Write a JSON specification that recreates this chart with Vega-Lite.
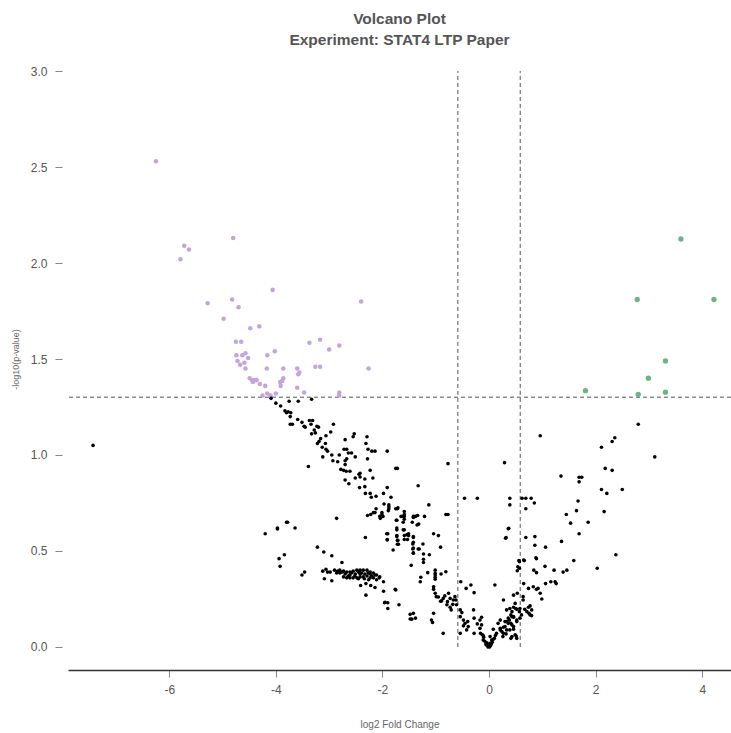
{
"$schema": "https://vega.github.io/schema/vega-lite/v6.json",
"width": 663, "height": 622,
"autosize": {"type": "none"},
"padding": {"left": 68, "top": 48, "right": 0, "bottom": 63},
"background": "white",
"config": {"view": {"stroke": null}, "font": "Liberation Sans"},
"title": {"text": ["Volcano Plot", "Experiment: STAT4 LTP Paper"], "font": "Liberation Sans", "fontSize": 15.5, "fontWeight": "bold", "color": "#555555", "anchor": "middle", "lineHeight": 21, "offset": 0},
"datasets": {
"vlines": [{"x": -0.585, "y": 0, "y2": 3}, {"x": 0.585, "y": 0, "y2": 3}],
"hline": [{"y": 1.301}],
"genes": [
{"lfc":-6.25,"nlp":2.53,"sig":"down"},{"lfc":-4.80,"nlp":2.13,"sig":"down"},{"lfc":-5.72,"nlp":2.09,"sig":"down"},{"lfc":-5.63,"nlp":2.07,"sig":"down"},{"lfc":-5.79,"nlp":2.02,"sig":"down"},{"lfc":-5.28,"nlp":1.79,"sig":"down"},{"lfc":-4.82,"nlp":1.81,"sig":"down"},{"lfc":-4.70,"nlp":1.77,"sig":"down"},{"lfc":-4.06,"nlp":1.86,"sig":"down"},{"lfc":-4.98,"nlp":1.71,"sig":"down"},{"lfc":-2.40,"nlp":1.80,"sig":"down"},{"lfc":-4.48,"nlp":1.66,"sig":"down"},{"lfc":-4.31,"nlp":1.67,"sig":"down"},{"lfc":-4.75,"nlp":1.59,"sig":"down"},{"lfc":-4.65,"nlp":1.59,"sig":"down"},{"lfc":-3.37,"nlp":1.585,"sig":"down"},{"lfc":-3.17,"nlp":1.60,"sig":"down"},{"lfc":-3.00,"nlp":1.55,"sig":"down"},{"lfc":-2.81,"nlp":1.57,"sig":"down"},{"lfc":-4.74,"nlp":1.52,"sig":"down"},{"lfc":-4.63,"nlp":1.52,"sig":"down"},{"lfc":-4.57,"nlp":1.53,"sig":"down"},{"lfc":-4.52,"nlp":1.505,"sig":"down"},{"lfc":-4.16,"nlp":1.52,"sig":"down"},{"lfc":-4.02,"nlp":1.54,"sig":"down"},{"lfc":-4.72,"nlp":1.49,"sig":"down"},{"lfc":-4.67,"nlp":1.47,"sig":"down"},{"lfc":-4.59,"nlp":1.48,"sig":"down"},{"lfc":-4.57,"nlp":1.45,"sig":"down"},{"lfc":-4.17,"nlp":1.45,"sig":"down"},{"lfc":-3.86,"nlp":1.45,"sig":"down"},{"lfc":-3.60,"nlp":1.45,"sig":"down"},{"lfc":-3.56,"nlp":1.43,"sig":"down"},{"lfc":-3.58,"nlp":1.42,"sig":"down"},{"lfc":-3.26,"nlp":1.46,"sig":"down"},{"lfc":-3.17,"nlp":1.46,"sig":"down"},{"lfc":-2.26,"nlp":1.45,"sig":"down"},{"lfc":-4.49,"nlp":1.40,"sig":"down"},{"lfc":-4.45,"nlp":1.39,"sig":"down"},{"lfc":-4.40,"nlp":1.39,"sig":"down"},{"lfc":-4.36,"nlp":1.39,"sig":"down"},{"lfc":-4.43,"nlp":1.38,"sig":"down"},{"lfc":-4.30,"nlp":1.37,"sig":"down"},{"lfc":-3.86,"nlp":1.40,"sig":"down"},{"lfc":-3.92,"nlp":1.38,"sig":"down"},{"lfc":-3.88,"nlp":1.385,"sig":"down"},{"lfc":-3.91,"nlp":1.36,"sig":"down"},{"lfc":-4.20,"nlp":1.36,"sig":"down"},{"lfc":-3.60,"nlp":1.35,"sig":"down"},{"lfc":-3.47,"nlp":1.325,"sig":"down"},{"lfc":-2.81,"nlp":1.325,"sig":"down"},{"lfc":-2.81,"nlp":1.31,"sig":"down"},{"lfc":-4.00,"nlp":1.32,"sig":"down"},{"lfc":-4.10,"nlp":1.31,"sig":"down"},{"lfc":-4.16,"nlp":1.32,"sig":"down"},{"lfc":-4.25,"nlp":1.31,"sig":"down"},
{"lfc":3.60,"nlp":2.125,"sig":"up"},{"lfc":2.78,"nlp":1.81,"sig":"up"},{"lfc":4.22,"nlp":1.81,"sig":"up"},{"lfc":3.31,"nlp":1.49,"sig":"up"},{"lfc":2.99,"nlp":1.40,"sig":"up"},{"lfc":1.81,"nlp":1.335,"sig":"up"},{"lfc":2.80,"nlp":1.316,"sig":"up"},{"lfc":3.31,"nlp":1.327,"sig":"up"},
{"lfc":-7.43,"nlp":1.05,"sig":"ns"},{"lfc":3.11,"nlp":0.99,"sig":"ns"},
{"lfc":-4.09,"nlp":1.295,"sig":"ns"},{"lfc":-4.00,"nlp":1.27,"sig":"ns"},{"lfc":-3.91,"nlp":1.255,"sig":"ns"},{"lfc":-3.83,"nlp":1.23,"sig":"ns"},{"lfc":-3.80,"nlp":1.22,"sig":"ns"},{"lfc":-3.77,"nlp":1.225,"sig":"ns"},{"lfc":-3.72,"nlp":1.22,"sig":"ns"},{"lfc":-3.73,"nlp":1.20,"sig":"ns"},{"lfc":-3.75,"nlp":1.28,"sig":"ns"},{"lfc":-3.58,"nlp":1.28,"sig":"ns"},{"lfc":-3.33,"nlp":1.29,"sig":"ns"},{"lfc":-3.59,"nlp":1.185,"sig":"ns"},{"lfc":-3.73,"nlp":1.16,"sig":"ns"},{"lfc":-3.69,"nlp":1.16,"sig":"ns"},{"lfc":-3.51,"nlp":1.17,"sig":"ns"},{"lfc":-3.47,"nlp":1.15,"sig":"ns"},{"lfc":-3.45,"nlp":1.145,"sig":"ns"},{"lfc":-3.37,"nlp":1.18,"sig":"ns"},{"lfc":-3.31,"nlp":1.18,"sig":"ns"},{"lfc":-3.34,"nlp":1.16,"sig":"ns"},{"lfc":-3.28,"nlp":1.13,"sig":"ns"},{"lfc":-3.23,"nlp":1.15,"sig":"ns"},{"lfc":-3.20,"nlp":1.145,"sig":"ns"},{"lfc":-3.26,"nlp":1.115,"sig":"ns"},{"lfc":-3.33,"nlp":1.11,"sig":"ns"},{"lfc":-2.92,"nlp":1.16,"sig":"ns"},{"lfc":-2.97,"nlp":1.12,"sig":"ns"},{"lfc":-3.06,"nlp":1.10,"sig":"ns"},{"lfc":-3.16,"nlp":1.085,"sig":"ns"},{"lfc":-3.19,"nlp":1.07,"sig":"ns"},{"lfc":-3.22,"nlp":1.06,"sig":"ns"},{"lfc":-3.13,"nlp":1.04,"sig":"ns"},{"lfc":-3.07,"nlp":1.06,"sig":"ns"},{"lfc":-3.06,"nlp":1.03,"sig":"ns"},{"lfc":-3.03,"nlp":1.02,"sig":"ns"},{"lfc":-3.12,"nlp":0.99,"sig":"ns"},{"lfc":-2.95,"nlp":1.00,"sig":"ns"},{"lfc":-2.81,"nlp":1.00,"sig":"ns"},{"lfc":-2.93,"nlp":0.97,"sig":"ns"},{"lfc":-2.84,"nlp":0.965,"sig":"ns"},{"lfc":-2.70,"nlp":1.08,"sig":"ns"},{"lfc":-2.67,"nlp":1.03,"sig":"ns"},{"lfc":-2.72,"nlp":1.03,"sig":"ns"},{"lfc":-2.64,"nlp":1.01,"sig":"ns"},{"lfc":-2.58,"nlp":1.01,"sig":"ns"},{"lfc":-2.51,"nlp":0.99,"sig":"ns"},{"lfc":-2.53,"nlp":1.11,"sig":"ns"},{"lfc":-2.55,"nlp":1.095,"sig":"ns"},{"lfc":-2.29,"nlp":1.095,"sig":"ns"},{"lfc":-2.31,"nlp":1.06,"sig":"ns"},{"lfc":-2.27,"nlp":1.03,"sig":"ns"},{"lfc":-2.20,"nlp":1.02,"sig":"ns"},{"lfc":-2.14,"nlp":1.02,"sig":"ns"},{"lfc":-1.91,"nlp":1.02,"sig":"ns"},{"lfc":-2.28,"nlp":0.98,"sig":"ns"},{"lfc":-2.67,"nlp":0.98,"sig":"ns"},{"lfc":-2.70,"nlp":0.97,"sig":"ns"},{"lfc":-2.70,"nlp":0.95,"sig":"ns"},{"lfc":-2.78,"nlp":0.925,"sig":"ns"},{"lfc":-2.73,"nlp":0.92,"sig":"ns"},{"lfc":-2.68,"nlp":0.915,"sig":"ns"},{"lfc":-2.61,"nlp":0.915,"sig":"ns"},{"lfc":-2.70,"nlp":0.87,"sig":"ns"},{"lfc":-2.63,"nlp":0.85,"sig":"ns"},{"lfc":-2.51,"nlp":0.88,"sig":"ns"},{"lfc":-2.44,"nlp":0.90,"sig":"ns"},{"lfc":-2.42,"nlp":0.905,"sig":"ns"},{"lfc":-2.42,"nlp":0.885,"sig":"ns"},{"lfc":-2.33,"nlp":0.875,"sig":"ns"},{"lfc":-2.23,"nlp":0.92,"sig":"ns"},{"lfc":-2.18,"nlp":0.88,"sig":"ns"},{"lfc":-1.75,"nlp":0.93,"sig":"ns"},{"lfc":-1.72,"nlp":0.93,"sig":"ns"},{"lfc":-2.43,"nlp":0.83,"sig":"ns"},{"lfc":-2.33,"nlp":0.835,"sig":"ns"},{"lfc":-2.32,"nlp":0.80,"sig":"ns"},{"lfc":-2.23,"nlp":0.80,"sig":"ns"},{"lfc":-2.21,"nlp":0.78,"sig":"ns"},{"lfc":-2.12,"nlp":0.785,"sig":"ns"},{"lfc":-1.98,"nlp":0.80,"sig":"ns"},{"lfc":-1.91,"nlp":0.83,"sig":"ns"},{"lfc":-1.84,"nlp":0.78,"sig":"ns"},{"lfc":-1.97,"nlp":0.745,"sig":"ns"},{"lfc":-1.88,"nlp":0.74,"sig":"ns"},{"lfc":-1.88,"nlp":0.72,"sig":"ns"},{"lfc":-1.72,"nlp":0.72,"sig":"ns"},{"lfc":-2.12,"nlp":0.72,"sig":"ns"},{"lfc":-2.17,"nlp":0.70,"sig":"ns"},{"lfc":-2.28,"nlp":0.685,"sig":"ns"},{"lfc":-2.22,"nlp":0.69,"sig":"ns"},{"lfc":-1.99,"nlp":0.68,"sig":"ns"},{"lfc":-2.04,"nlp":0.67,"sig":"ns"},{"lfc":-1.73,"nlp":0.66,"sig":"ns"},{"lfc":-1.73,"nlp":0.62,"sig":"ns"},{"lfc":-3.39,"nlp":0.94,"sig":"ns"},{"lfc":-2.86,"nlp":0.67,"sig":"ns"},{"lfc":-3.80,"nlp":0.65,"sig":"ns"},{"lfc":-3.97,"nlp":0.62,"sig":"ns"},{"lfc":-3.64,"nlp":0.62,"sig":"ns"},
{"lfc":-0.77,"nlp":0.955,"sig":"ns"},{"lfc":-1.33,"nlp":0.84,"sig":"ns"},{"lfc":-0.46,"nlp":0.775,"sig":"ns"},{"lfc":-0.22,"nlp":0.775,"sig":"ns"},{"lfc":-1.88,"nlp":0.73,"sig":"ns"},{"lfc":-1.75,"nlp":0.72,"sig":"ns"},{"lfc":-1.71,"nlp":0.725,"sig":"ns"},{"lfc":-1.13,"nlp":0.74,"sig":"ns"},{"lfc":-1.59,"nlp":0.705,"sig":"ns"},{"lfc":-1.59,"nlp":0.69,"sig":"ns"},{"lfc":-1.59,"nlp":0.68,"sig":"ns"},{"lfc":-1.59,"nlp":0.665,"sig":"ns"},{"lfc":-1.65,"nlp":0.68,"sig":"ns"},{"lfc":-1.42,"nlp":0.675,"sig":"ns"},{"lfc":-1.38,"nlp":0.68,"sig":"ns"},{"lfc":-1.44,"nlp":0.65,"sig":"ns"},{"lfc":-1.21,"nlp":0.68,"sig":"ns"},{"lfc":-0.81,"nlp":0.69,"sig":"ns"},{"lfc":-0.77,"nlp":0.69,"sig":"ns"},{"lfc":-1.32,"nlp":0.64,"sig":"ns"},{"lfc":-1.74,"nlp":0.66,"sig":"ns"},{"lfc":-2.01,"nlp":0.69,"sig":"ns"},{"lfc":-1.59,"nlp":0.61,"sig":"ns"},{"lfc":-1.90,"nlp":0.59,"sig":"ns"},{"lfc":-1.51,"nlp":0.59,"sig":"ns"},{"lfc":-1.42,"nlp":0.575,"sig":"ns"},{"lfc":-1.59,"nlp":0.56,"sig":"ns"},{"lfc":-1.72,"nlp":0.555,"sig":"ns"},{"lfc":-1.04,"nlp":0.59,"sig":"ns"},{"lfc":-0.95,"nlp":0.58,"sig":"ns"},
{"lfc":-4.20,"nlp":0.59,"sig":"ns"},{"lfc":-3.97,"nlp":0.615,"sig":"ns"},{"lfc":-3.78,"nlp":0.65,"sig":"ns"},{"lfc":-3.94,"nlp":0.46,"sig":"ns"},{"lfc":-3.84,"nlp":0.48,"sig":"ns"},{"lfc":-3.92,"nlp":0.42,"sig":"ns"},{"lfc":-3.51,"nlp":0.375,"sig":"ns"},{"lfc":-3.46,"nlp":0.39,"sig":"ns"},{"lfc":-3.22,"nlp":0.52,"sig":"ns"},{"lfc":-3.10,"nlp":0.495,"sig":"ns"},{"lfc":-2.95,"nlp":0.475,"sig":"ns"},{"lfc":-2.76,"nlp":0.44,"sig":"ns"},{"lfc":-2.32,"nlp":0.57,"sig":"ns"},
{"lfc":-3.12,"nlp":0.395,"sig":"ns"},{"lfc":-3.06,"nlp":0.405,"sig":"ns"},{"lfc":-3.03,"nlp":0.39,"sig":"ns"},{"lfc":-3.09,"nlp":0.355,"sig":"ns"},{"lfc":-2.95,"nlp":0.345,"sig":"ns"},{"lfc":-2.90,"nlp":0.40,"sig":"ns"},{"lfc":-2.84,"nlp":0.395,"sig":"ns"},{"lfc":-2.80,"nlp":0.40,"sig":"ns"},{"lfc":-2.73,"nlp":0.395,"sig":"ns"},{"lfc":-2.67,"nlp":0.39,"sig":"ns"},{"lfc":-2.61,"nlp":0.39,"sig":"ns"},{"lfc":-2.55,"nlp":0.395,"sig":"ns"},{"lfc":-2.48,"nlp":0.40,"sig":"ns"},{"lfc":-2.42,"nlp":0.40,"sig":"ns"},{"lfc":-2.36,"nlp":0.40,"sig":"ns"},{"lfc":-2.29,"nlp":0.40,"sig":"ns"},{"lfc":-2.23,"nlp":0.39,"sig":"ns"},{"lfc":-2.17,"nlp":0.385,"sig":"ns"},{"lfc":-2.11,"nlp":0.375,"sig":"ns"},{"lfc":-2.05,"nlp":0.365,"sig":"ns"},{"lfc":-2.73,"nlp":0.365,"sig":"ns"},{"lfc":-2.67,"nlp":0.36,"sig":"ns"},{"lfc":-2.61,"nlp":0.36,"sig":"ns"},{"lfc":-2.55,"nlp":0.36,"sig":"ns"},{"lfc":-2.48,"nlp":0.36,"sig":"ns"},{"lfc":-2.42,"nlp":0.365,"sig":"ns"},{"lfc":-2.36,"nlp":0.365,"sig":"ns"},{"lfc":-2.29,"nlp":0.37,"sig":"ns"},{"lfc":-2.23,"nlp":0.36,"sig":"ns"},{"lfc":-2.17,"nlp":0.36,"sig":"ns"},{"lfc":-2.11,"nlp":0.35,"sig":"ns"},{"lfc":-2.06,"nlp":0.36,"sig":"ns"},{"lfc":-2.80,"nlp":0.385,"sig":"ns"},{"lfc":-2.70,"nlp":0.38,"sig":"ns"},{"lfc":-2.61,"nlp":0.375,"sig":"ns"},{"lfc":-2.51,"nlp":0.38,"sig":"ns"},{"lfc":-2.42,"nlp":0.38,"sig":"ns"},{"lfc":-2.33,"nlp":0.38,"sig":"ns"},{"lfc":-2.23,"nlp":0.38,"sig":"ns"},{"lfc":-2.14,"nlp":0.375,"sig":"ns"},{"lfc":-2.58,"nlp":0.385,"sig":"ns"},{"lfc":-2.45,"nlp":0.39,"sig":"ns"},{"lfc":-2.39,"nlp":0.385,"sig":"ns"},{"lfc":-2.27,"nlp":0.385,"sig":"ns"},{"lfc":-2.20,"nlp":0.37,"sig":"ns"},{"lfc":-2.64,"nlp":0.37,"sig":"ns"},{"lfc":-2.52,"nlp":0.37,"sig":"ns"},{"lfc":-2.45,"nlp":0.355,"sig":"ns"},{"lfc":-2.34,"nlp":0.355,"sig":"ns"},{"lfc":-2.26,"nlp":0.35,"sig":"ns"},{"lfc":-2.76,"nlp":0.39,"sig":"ns"},{"lfc":-2.86,"nlp":0.385,"sig":"ns"},{"lfc":-2.98,"nlp":0.39,"sig":"ns"},
{"lfc":-2.41,"nlp":0.32,"sig":"ns"},{"lfc":-2.31,"nlp":0.33,"sig":"ns"},{"lfc":-2.22,"nlp":0.32,"sig":"ns"},{"lfc":-2.14,"nlp":0.31,"sig":"ns"},{"lfc":-1.98,"nlp":0.34,"sig":"ns"},{"lfc":-1.98,"nlp":0.29,"sig":"ns"},{"lfc":-2.31,"nlp":0.27,"sig":"ns"},{"lfc":-1.76,"nlp":0.30,"sig":"ns"},{"lfc":-1.69,"nlp":0.22,"sig":"ns"},{"lfc":-1.96,"nlp":0.23,"sig":"ns"},{"lfc":-1.90,"nlp":0.23,"sig":"ns"},{"lfc":-1.90,"nlp":0.20,"sig":"ns"},{"lfc":-1.48,"nlp":0.17,"sig":"ns"},{"lfc":-1.42,"nlp":0.175,"sig":"ns"},{"lfc":-1.45,"nlp":0.145,"sig":"ns"},{"lfc":-1.38,"nlp":0.15,"sig":"ns"},{"lfc":-1.80,"nlp":0.505,"sig":"ns"},{"lfc":-1.92,"nlp":0.59,"sig":"ns"},{"lfc":-1.91,"nlp":0.56,"sig":"ns"},{"lfc":-1.73,"nlp":0.575,"sig":"ns"},{"lfc":-1.71,"nlp":0.555,"sig":"ns"},{"lfc":-1.70,"nlp":0.535,"sig":"ns"},{"lfc":-1.61,"nlp":0.68,"sig":"ns"},{"lfc":-1.61,"nlp":0.65,"sig":"ns"},{"lfc":-1.54,"nlp":0.585,"sig":"ns"},{"lfc":-1.53,"nlp":0.56,"sig":"ns"},{"lfc":-1.42,"nlp":0.57,"sig":"ns"},{"lfc":-1.42,"nlp":0.545,"sig":"ns"},{"lfc":-1.42,"nlp":0.515,"sig":"ns"},{"lfc":-1.42,"nlp":0.49,"sig":"ns"},{"lfc":-1.33,"nlp":0.51,"sig":"ns"},{"lfc":-1.46,"nlp":0.425,"sig":"ns"},{"lfc":-1.35,"nlp":0.635,"sig":"ns"},{"lfc":-1.42,"nlp":0.68,"sig":"ns"},{"lfc":-1.34,"nlp":0.685,"sig":"ns"},{"lfc":-2.05,"nlp":0.68,"sig":"ns"},{"lfc":-2.01,"nlp":0.70,"sig":"ns"},{"lfc":-2.14,"nlp":0.70,"sig":"ns"},{"lfc":-1.89,"nlp":0.71,"sig":"ns"},
{"lfc":-1.73,"nlp":0.61,"sig":"ns"},{"lfc":-1.61,"nlp":0.61,"sig":"ns"},{"lfc":-1.59,"nlp":0.58,"sig":"ns"},{"lfc":-1.73,"nlp":0.58,"sig":"ns"},{"lfc":-1.91,"nlp":0.557,"sig":"ns"},{"lfc":-1.72,"nlp":0.535,"sig":"ns"},{"lfc":-1.51,"nlp":0.58,"sig":"ns"},{"lfc":-1.43,"nlp":0.536,"sig":"ns"},{"lfc":-1.43,"nlp":0.51,"sig":"ns"},{"lfc":-1.42,"nlp":0.488,"sig":"ns"},{"lfc":-1.31,"nlp":0.51,"sig":"ns"},{"lfc":-1.24,"nlp":0.536,"sig":"ns"},{"lfc":-1.23,"nlp":0.484,"sig":"ns"},{"lfc":-1.23,"nlp":0.457,"sig":"ns"},{"lfc":-1.23,"nlp":0.44,"sig":"ns"},{"lfc":-1.12,"nlp":0.48,"sig":"ns"},{"lfc":-0.91,"nlp":0.52,"sig":"ns"},{"lfc":-1.15,"nlp":0.387,"sig":"ns"},{"lfc":-1.01,"nlp":0.40,"sig":"ns"},{"lfc":-1.01,"nlp":0.384,"sig":"ns"},{"lfc":-1.01,"nlp":0.375,"sig":"ns"},{"lfc":-1.01,"nlp":0.363,"sig":"ns"},{"lfc":-1.01,"nlp":0.353,"sig":"ns"},{"lfc":-0.90,"nlp":0.38,"sig":"ns"},{"lfc":-0.81,"nlp":0.392,"sig":"ns"},{"lfc":-1.28,"nlp":0.363,"sig":"ns"},{"lfc":-1.29,"nlp":0.34,"sig":"ns"},{"lfc":-1.75,"nlp":0.297,"sig":"ns"},{"lfc":-1.95,"nlp":0.233,"sig":"ns"},{"lfc":-1.04,"nlp":0.314,"sig":"ns"},{"lfc":-1.04,"nlp":0.30,"sig":"ns"},{"lfc":-1.01,"nlp":0.28,"sig":"ns"},{"lfc":-0.99,"nlp":0.262,"sig":"ns"},{"lfc":-0.95,"nlp":0.26,"sig":"ns"},{"lfc":-0.89,"nlp":0.24,"sig":"ns"},{"lfc":-0.86,"nlp":0.253,"sig":"ns"},{"lfc":-0.91,"nlp":0.238,"sig":"ns"},{"lfc":-0.83,"nlp":0.266,"sig":"ns"},{"lfc":-0.76,"nlp":0.28,"sig":"ns"},{"lfc":-0.73,"nlp":0.253,"sig":"ns"},{"lfc":-0.78,"nlp":0.236,"sig":"ns"},{"lfc":-0.79,"nlp":0.22,"sig":"ns"},{"lfc":-0.73,"nlp":0.207,"sig":"ns"},{"lfc":-0.67,"nlp":0.245,"sig":"ns"},{"lfc":-0.68,"nlp":0.222,"sig":"ns"},{"lfc":-0.64,"nlp":0.262,"sig":"ns"},{"lfc":-0.62,"nlp":0.245,"sig":"ns"},{"lfc":-0.61,"nlp":0.22,"sig":"ns"},{"lfc":-0.71,"nlp":0.193,"sig":"ns"},{"lfc":-0.86,"nlp":0.071,"sig":"ns"},{"lfc":-1.48,"nlp":0.146,"sig":"ns"},{"lfc":-1.04,"nlp":0.175,"sig":"ns"},{"lfc":-1.08,"nlp":0.14,"sig":"ns"},{"lfc":-1.06,"nlp":0.128,"sig":"ns"},
{"lfc":-0.53,"nlp":0.34,"sig":"ns"},{"lfc":-0.43,"nlp":0.305,"sig":"ns"},{"lfc":-0.34,"nlp":0.323,"sig":"ns"},{"lfc":-0.28,"nlp":0.283,"sig":"ns"},{"lfc":0.11,"nlp":0.323,"sig":"ns"},{"lfc":0.37,"nlp":0.618,"sig":"ns"},{"lfc":0.31,"nlp":0.566,"sig":"ns"},{"lfc":0.69,"nlp":0.57,"sig":"ns"},{"lfc":0.86,"nlp":0.575,"sig":"ns"},{"lfc":0.86,"nlp":0.53,"sig":"ns"},{"lfc":0.89,"nlp":0.46,"sig":"ns"},{"lfc":0.84,"nlp":0.40,"sig":"ns"},{"lfc":0.89,"nlp":0.387,"sig":"ns"},{"lfc":0.57,"nlp":0.444,"sig":"ns"},{"lfc":0.65,"nlp":0.453,"sig":"ns"},{"lfc":0.54,"nlp":0.418,"sig":"ns"},{"lfc":0.53,"nlp":0.397,"sig":"ns"},{"lfc":0.65,"nlp":0.33,"sig":"ns"},{"lfc":0.74,"nlp":0.305,"sig":"ns"},{"lfc":0.83,"nlp":0.314,"sig":"ns"},{"lfc":0.92,"nlp":0.305,"sig":"ns"},{"lfc":0.46,"nlp":0.27,"sig":"ns"},{"lfc":0.53,"nlp":0.28,"sig":"ns"},{"lfc":0.64,"nlp":0.262,"sig":"ns"},{"lfc":0.64,"nlp":0.245,"sig":"ns"},{"lfc":0.27,"nlp":0.245,"sig":"ns"},{"lfc":0.33,"nlp":0.193,"sig":"ns"},{"lfc":0.39,"nlp":0.20,"sig":"ns"},{"lfc":0.46,"nlp":0.207,"sig":"ns"},{"lfc":0.52,"nlp":0.196,"sig":"ns"},{"lfc":0.58,"nlp":0.20,"sig":"ns"},{"lfc":0.61,"nlp":0.167,"sig":"ns"},{"lfc":0.67,"nlp":0.196,"sig":"ns"},{"lfc":0.74,"nlp":0.207,"sig":"ns"},{"lfc":0.77,"nlp":0.214,"sig":"ns"},{"lfc":0.80,"nlp":0.193,"sig":"ns"},{"lfc":0.75,"nlp":0.175,"sig":"ns"},{"lfc":0.80,"nlp":0.163,"sig":"ns"},{"lfc":-0.54,"nlp":0.193,"sig":"ns"},{"lfc":-0.51,"nlp":0.179,"sig":"ns"},{"lfc":-0.54,"nlp":0.158,"sig":"ns"},{"lfc":-0.48,"nlp":0.14,"sig":"ns"},{"lfc":-0.45,"nlp":0.123,"sig":"ns"},{"lfc":-0.40,"nlp":0.132,"sig":"ns"},{"lfc":-0.39,"nlp":0.106,"sig":"ns"},{"lfc":-0.48,"nlp":0.11,"sig":"ns"},{"lfc":-0.29,"nlp":0.193,"sig":"ns"},{"lfc":-0.28,"nlp":0.15,"sig":"ns"},{"lfc":-0.22,"nlp":0.12,"sig":"ns"},{"lfc":-0.17,"nlp":0.097,"sig":"ns"},{"lfc":-0.16,"nlp":0.071,"sig":"ns"},{"lfc":-0.28,"nlp":0.071,"sig":"ns"},{"lfc":-0.17,"nlp":0.14,"sig":"ns"},{"lfc":-0.54,"nlp":0.071,"sig":"ns"},{"lfc":-0.42,"nlp":0.089,"sig":"ns"},{"lfc":-0.11,"nlp":0.036,"sig":"ns"},{"lfc":-0.04,"nlp":0.022,"sig":"ns"},{"lfc":-0.01,"nlp":0.01,"sig":"ns"},{"lfc":0.02,"nlp":0.019,"sig":"ns"},{"lfc":0.05,"nlp":0.036,"sig":"ns"},{"lfc":0.08,"nlp":0.04,"sig":"ns"},{"lfc":0.02,"nlp":0.054,"sig":"ns"},{"lfc":0.14,"nlp":0.071,"sig":"ns"},{"lfc":0.21,"nlp":0.089,"sig":"ns"},{"lfc":0.21,"nlp":0.14,"sig":"ns"},{"lfc":0.30,"nlp":0.106,"sig":"ns"},{"lfc":0.33,"nlp":0.132,"sig":"ns"},{"lfc":0.36,"nlp":0.15,"sig":"ns"},{"lfc":0.41,"nlp":0.123,"sig":"ns"},{"lfc":0.43,"nlp":0.158,"sig":"ns"},{"lfc":0.46,"nlp":0.158,"sig":"ns"},{"lfc":0.52,"nlp":0.132,"sig":"ns"},{"lfc":0.46,"nlp":0.106,"sig":"ns"},{"lfc":0.39,"nlp":0.089,"sig":"ns"},{"lfc":0.27,"nlp":0.071,"sig":"ns"},{"lfc":0.49,"nlp":0.063,"sig":"ns"},{"lfc":0.52,"nlp":0.045,"sig":"ns"},{"lfc":0.43,"nlp":0.054,"sig":"ns"},{"lfc":-0.08,"nlp":0.03,"sig":"ns"},{"lfc":-0.06,"nlp":0.015,"sig":"ns"},{"lfc":0.0,"nlp":0.005,"sig":"ns"},{"lfc":0.03,"nlp":0.008,"sig":"ns"},{"lfc":0.06,"nlp":0.025,"sig":"ns"},{"lfc":0.10,"nlp":0.045,"sig":"ns"},{"lfc":0.12,"nlp":0.06,"sig":"ns"},{"lfc":-0.10,"nlp":0.05,"sig":"ns"},{"lfc":-0.13,"nlp":0.065,"sig":"ns"},{"lfc":-0.02,"nlp":0.0,"sig":"ns"},{"lfc":0.01,"nlp":0.0,"sig":"ns"},{"lfc":-0.05,"nlp":0.01,"sig":"ns"},{"lfc":0.04,"nlp":0.015,"sig":"ns"},
{"lfc":2.80,"nlp":1.16,"sig":"ns"},{"lfc":0.96,"nlp":1.10,"sig":"ns"},{"lfc":0.29,"nlp":0.96,"sig":"ns"},{"lfc":2.36,"nlp":1.09,"sig":"ns"},{"lfc":2.31,"nlp":1.07,"sig":"ns"},{"lfc":2.11,"nlp":1.04,"sig":"ns"},{"lfc":2.18,"nlp":0.93,"sig":"ns"},{"lfc":2.31,"nlp":0.92,"sig":"ns"},{"lfc":1.35,"nlp":0.89,"sig":"ns"},{"lfc":1.69,"nlp":0.884,"sig":"ns"},{"lfc":1.74,"nlp":0.884,"sig":"ns"},{"lfc":1.69,"nlp":0.86,"sig":"ns"},{"lfc":2.11,"nlp":0.82,"sig":"ns"},{"lfc":2.21,"nlp":0.80,"sig":"ns"},{"lfc":2.50,"nlp":0.82,"sig":"ns"},{"lfc":0.39,"nlp":0.775,"sig":"ns"},{"lfc":0.39,"nlp":0.74,"sig":"ns"},{"lfc":0.62,"nlp":0.775,"sig":"ns"},{"lfc":0.69,"nlp":0.775,"sig":"ns"},{"lfc":0.79,"nlp":0.775,"sig":"ns"},{"lfc":0.85,"nlp":0.75,"sig":"ns"},{"lfc":0.69,"nlp":0.72,"sig":"ns"},{"lfc":1.67,"nlp":0.76,"sig":"ns"},{"lfc":1.64,"nlp":0.71,"sig":"ns"},{"lfc":1.45,"nlp":0.69,"sig":"ns"},{"lfc":2.16,"nlp":0.705,"sig":"ns"},{"lfc":1.53,"nlp":0.645,"sig":"ns"},{"lfc":1.86,"nlp":0.65,"sig":"ns"},{"lfc":0.36,"nlp":0.616,"sig":"ns"},{"lfc":0.32,"nlp":0.57,"sig":"ns"},{"lfc":1.69,"nlp":0.59,"sig":"ns"},{"lfc":1.06,"nlp":0.52,"sig":"ns"},{"lfc":1.36,"nlp":0.55,"sig":"ns"},{"lfc":2.38,"nlp":0.48,"sig":"ns"},{"lfc":0.88,"nlp":0.465,"sig":"ns"},
{"lfc":0.56,"nlp":0.45,"sig":"ns"},{"lfc":0.66,"nlp":0.45,"sig":"ns"},{"lfc":0.57,"nlp":0.41,"sig":"ns"},{"lfc":1.05,"nlp":0.42,"sig":"ns"},{"lfc":1.22,"nlp":0.40,"sig":"ns"},{"lfc":1.39,"nlp":0.39,"sig":"ns"},{"lfc":1.46,"nlp":0.40,"sig":"ns"},{"lfc":1.59,"nlp":0.45,"sig":"ns"},{"lfc":2.03,"nlp":0.41,"sig":"ns"},{"lfc":0.89,"nlp":0.30,"sig":"ns"},{"lfc":0.96,"nlp":0.28,"sig":"ns"},{"lfc":1.16,"nlp":0.34,"sig":"ns"},{"lfc":1.06,"nlp":0.33,"sig":"ns"},{"lfc":0.99,"nlp":0.25,"sig":"ns"},{"lfc":1.24,"nlp":0.34,"sig":"ns"},{"lfc":1.26,"nlp":0.33,"sig":"ns"},{"lfc":0.71,"nlp":0.184,"sig":"ns"},{"lfc":0.77,"nlp":0.167,"sig":"ns"},{"lfc":0.49,"nlp":0.227,"sig":"ns"},{"lfc":0.50,"nlp":0.20,"sig":"ns"},{"lfc":0.57,"nlp":0.184,"sig":"ns"},{"lfc":0.58,"nlp":0.15,"sig":"ns"},{"lfc":0.52,"nlp":0.14,"sig":"ns"},{"lfc":0.43,"nlp":0.184,"sig":"ns"},{"lfc":0.41,"nlp":0.167,"sig":"ns"},{"lfc":0.46,"nlp":0.155,"sig":"ns"},{"lfc":0.38,"nlp":0.14,"sig":"ns"},{"lfc":0.36,"nlp":0.123,"sig":"ns"},{"lfc":0.30,"nlp":0.132,"sig":"ns"},{"lfc":0.27,"nlp":0.103,"sig":"ns"},{"lfc":0.24,"nlp":0.08,"sig":"ns"},{"lfc":0.33,"nlp":0.089,"sig":"ns"},{"lfc":0.43,"nlp":0.115,"sig":"ns"},{"lfc":0.46,"nlp":0.092,"sig":"ns"},{"lfc":0.32,"nlp":0.068,"sig":"ns"},{"lfc":0.26,"nlp":0.054,"sig":"ns"},{"lfc":0.41,"nlp":0.045,"sig":"ns"},{"lfc":0.51,"nlp":0.057,"sig":"ns"},{"lfc":0.17,"nlp":0.123,"sig":"ns"},{"lfc":0.21,"nlp":0.097,"sig":"ns"},{"lfc":0.08,"nlp":0.092,"sig":"ns"},{"lfc":-0.14,"nlp":0.115,"sig":"ns"},{"lfc":-0.14,"nlp":0.155,"sig":"ns"},{"lfc":-0.11,"nlp":0.06,"sig":"ns"}
]
},
"layer": [
{"data": {"name": "vlines"}, "mark": {"type": "rule", "strokeDash": [4, 3], "color": "#555555", "strokeWidth": 1},
 "encoding": {
  "x": {"field": "x", "type": "quantitative", "scale": {"domain": [-7.9, 4.54], "nice": false, "zero": false}},
  "y": {"field": "y", "type": "quantitative", "scale": {"domain": [-0.12, 3.12], "nice": false, "zero": false}},
  "y2": {"field": "y2"}}},
{"data": {"name": "hline"}, "mark": {"type": "rule", "strokeDash": [4, 3], "color": "#555555", "strokeWidth": 1},
 "encoding": {"y": {"field": "y", "type": "quantitative", "scale": {"domain": [-0.12, 3.12], "nice": false, "zero": false}}}},
{"data": {"name": "genes"}, "mark": {"type": "circle", "opacity": 1, "stroke": null},
 "encoding": {
  "x": {"field": "lfc", "type": "quantitative", "scale": {"domain": [-7.9, 4.54], "nice": false, "zero": false},
   "axis": {"values": [-6, -4, -2, 0, 2, 4], "labelExpr": "'' + datum.value", "title": "log2 Fold Change", "titleFont": "Liberation Sans", "titleFontSize": 10, "titleFontWeight": "normal", "titleColor": "#666666", "titlePadding": 24, "labelFont": "Liberation Sans", "labelFontSize": 12, "labelColor": "#555555", "labelPadding": 7, "tickSize": 7, "tickColor": "#888888", "domainColor": "#333333", "domainWidth": 1.5, "grid": false}},
  "y": {"field": "nlp", "type": "quantitative", "scale": {"domain": [-0.12, 3.12], "nice": false, "zero": false},
   "axis": {"values": [0, 0.5, 1, 1.5, 2, 2.5, 3], "format": ".1f", "offset": 6, "domain": false, "tickSize": 7, "tickColor": "#888888", "labelPadding": 8, "labelFont": "Liberation Sans", "labelFontSize": 12, "labelColor": "#555555", "title": "-log10(p-value)", "titleFont": "Liberation Sans", "titleFontSize": 9, "titleFontWeight": "normal", "titleColor": "#666666", "titlePadding": 10, "grid": false}},
  "color": {"field": "sig", "type": "nominal", "scale": {"domain": ["ns", "down", "up"], "range": ["#000000", "#C2A5DE", "#6DB580"]}, "legend": null},
  "size": {"field": "sig", "type": "nominal", "scale": {"domain": ["ns", "down", "up"], "range": [13, 28, 28]}, "legend": null}
 }}
]
}
